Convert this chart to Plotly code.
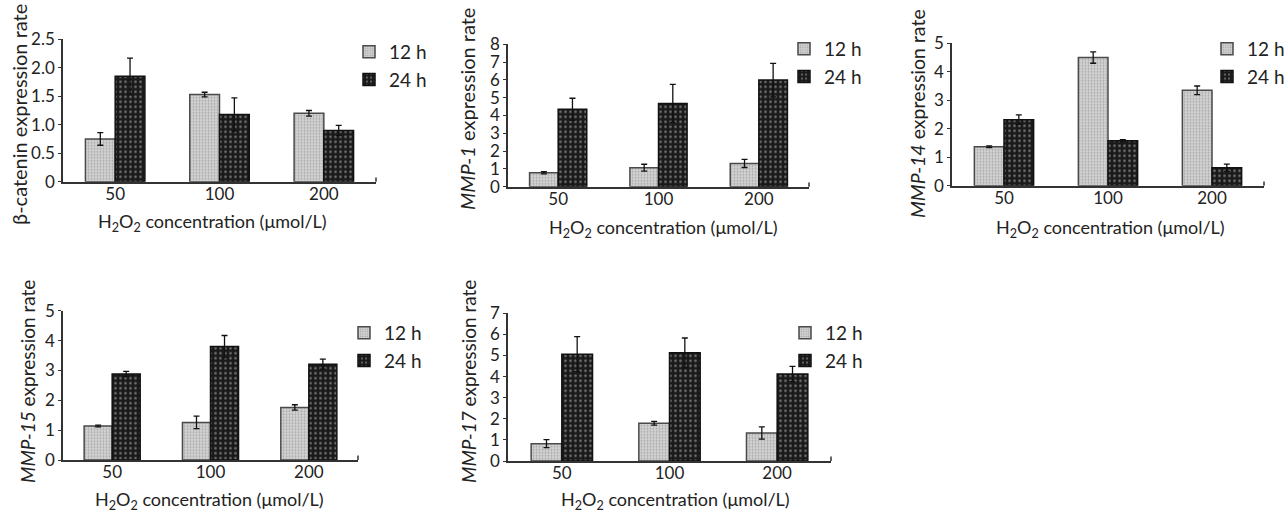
import plotly.graph_objects as go

W, H = 1287, 513

categories = ["50", "100", "200"]
series_names = ["12 h", "24 h"]

# panel 1: beta-catenin
bcat_12 = [0.75, 1.53, 1.20]
bcat_12_err = [0.11, 0.04, 0.05]
bcat_24 = [1.85, 1.18, 0.90]
bcat_24_err = [0.32, 0.29, 0.09]

# panel 2: MMP-1
mmp1_12 = [0.78, 1.07, 1.31]
mmp1_12_err = [0.06, 0.19, 0.23]
mmp1_24 = [4.35, 4.68, 5.99]
mmp1_24_err = [0.62, 1.07, 0.94]

# panel 3: MMP-14
mmp14_12 = [1.37, 4.50, 3.35]
mmp14_12_err = [0.03, 0.20, 0.15]
mmp14_24 = [2.32, 1.58, 0.63]
mmp14_24_err = [0.17, 0.04, 0.13]

# panel 4: MMP-15
mmp15_12 = [1.14, 1.26, 1.76]
mmp15_12_err = [0.03, 0.21, 0.09]
mmp15_24 = [2.88, 3.80, 3.21]
mmp15_24_err = [0.09, 0.37, 0.17]

# panel 5: MMP-17
mmp17_12 = [0.82, 1.79, 1.33]
mmp17_12_err = [0.19, 0.09, 0.29]
mmp17_24 = [5.06, 5.13, 4.12]
mmp17_24_err = [0.83, 0.70, 0.36]

y_titles = ["β-catenin expression rate", "<i>MMP-1</i> expression rate",
            "<i>MMP-14</i> expression rate", "<i>MMP-15</i> expression rate",
            "<i>MMP-17</i> expression rate"]
x_title = "H<sub>2</sub>O<sub>2</sub> concentration (μmol/L)"

y_max = [2.5, 8, 5, 5, 7]
y_ticks = [[0, 0.5, 1.0, 1.5, 2.0, 2.5], list(range(9)), list(range(6)),
           list(range(6)), list(range(8))]
y_ticktext = [["0", "0.5", "1.0", "1.5", "2.0", "2.5"],
              [str(v) for v in range(9)], [str(v) for v in range(6)],
              [str(v) for v in range(6)], [str(v) for v in range(8)]]

panels = [
    (bcat_12, bcat_12_err, bcat_24, bcat_24_err),
    (mmp1_12, mmp1_12_err, mmp1_24, mmp1_24_err),
    (mmp14_12, mmp14_12_err, mmp14_24, mmp14_24_err),
    (mmp15_12, mmp15_12_err, mmp15_24, mmp15_24_err),
    (mmp17_12, mmp17_12_err, mmp17_24, mmp17_24_err),
]

# layout geometry in pixels: (x0, x1, ytop, ybottom)
boxes = [(63, 376, 39.3, 181.7), (508, 809, 44.3, 186.7), (952, 1264, 43.3, 185.7),
         (63, 358, 310.7, 460), (508, 831, 313.3, 461)]
ytitle_pos = [(19, 115), (467, 109), (917, 114), (27, 382), (468, 382)]
ytitle_size = [20, 20, 19.5, 19, 19]
xtitle_pos = [(212, 223), (663, 228), (1110, 228), (209, 500), (675, 500)]
legend_pos = [(349, 33), (784, 30), (1207, 30), (344, 314), (785, 314)]

FONT = "Lato"
TXT = "#222222"

fig = go.Figure()
layout = {}
annotations = []
shapes = []

for i, (v12, e12, v24, e24) in enumerate(panels):
    n = "" if i == 0 else str(i + 1)
    xa, ya = "x" + n, "y" + n
    lg = "legend" + n
    fig.add_trace(go.Bar(
        x=categories, y=v12, name=series_names[0], xaxis=xa, yaxis=ya, legend=lg,
        marker=dict(color="#c8c8c8", line=dict(color="#4a4a4a", width=1.5),
                    pattern=dict(shape=".", size=3, solidity=0.35,
                                 fgcolor="#7a7a7a", bgcolor="#d4d4d4")),
        error_y=dict(type="data", array=e12, color="#111111", thickness=1.3, width=3),
    ))
    fig.add_trace(go.Bar(
        x=categories, y=v24, name=series_names[1], xaxis=xa, yaxis=ya, legend=lg,
        marker=dict(color="#1a1a1a", line=dict(color="#111111", width=1.5),
                    pattern=dict(shape=".", size=5, solidity=0.22,
                                 fgcolor="#c8c8c8", bgcolor="#1a1a1a")),
        error_y=dict(type="data", array=e24, color="#111111", thickness=1.3, width=3),
    ))
    x0, x1, yt, yb = boxes[i]
    xk = "xaxis" + n
    yk = "yaxis" + n
    layout[xk] = dict(domain=[x0 / W, x1 / W], anchor=ya, type="category",
                      range=[-0.5, 2.5], showline=True, linecolor="#333333",
                      linewidth=1.5, ticks="", showgrid=False, zeroline=False,
                      automargin=False, ticklabelstandoff=-4,
                      tickfont=dict(family=FONT, size=17, color=TXT))
    layout[yk] = dict(domain=[1 - yb / H, 1 - yt / H], anchor=xa,
                      range=[0, y_max[i]], tickvals=y_ticks[i], ticktext=y_ticktext[i],
                      showline=True, linecolor="#333333", linewidth=1.5,
                      ticks="outside", ticklen=3, tickwidth=1.3, tickcolor="#333333",
                      showgrid=False, zeroline=False, automargin=False,
                      tickfont=dict(family=FONT, size=17, color=TXT))
    lx, ly = legend_pos[i]
    layout[lg] = dict(x=lx / W, y=1 - ly / H, xanchor="left", yanchor="top",
                      font=dict(family=FONT, size=19, color=TXT),
                      bgcolor="rgba(0,0,0,0)", itemwidth=30, tracegroupgap=0)
    tx, ty = ytitle_pos[i]
    annotations.append(dict(text=y_titles[i], textangle=-90, x=tx / W, y=1 - ty / H,
                            xref="paper", yref="paper", showarrow=False,
                            xanchor="center", yanchor="middle",
                            font=dict(family=FONT, size=ytitle_size[i], color=TXT)))
    tx, ty = xtitle_pos[i]
    annotations.append(dict(text=x_title, x=tx / W, y=1 - ty / H,
                            xref="paper", yref="paper", showarrow=False,
                            xanchor="center", yanchor="middle",
                            font=dict(family=FONT, size=18, color=TXT)))
    shapes.append(dict(type="line", xref=xa + " domain", yref=ya + " domain",
                       x0=1, x1=1, y0=0, y1=0.03,
                       line=dict(color="#333333", width=1.5)))

fig.update_layout(**layout)
fig.update_layout(width=W, height=H, margin=dict(l=0, r=0, t=0, b=0, autoexpand=False),
                  paper_bgcolor="white", plot_bgcolor="white",
                  barmode="group", bargap=0.43, bargroupgap=0,
                  annotations=annotations, shapes=shapes, showlegend=True)

fig.write_html("out.html", config={"displayModeBar": False},
               post_script="document.body.style.margin='0px';"
                           "document.body.style.overflow='hidden';")
